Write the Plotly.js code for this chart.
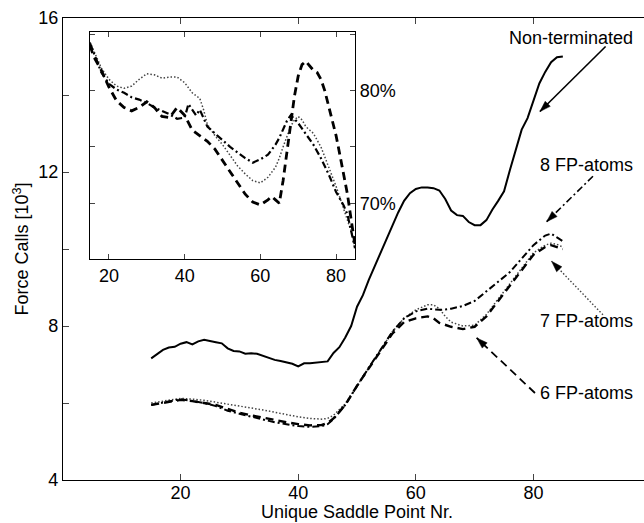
<!DOCTYPE html>
<html>
<head>
<meta charset="utf-8">
<script src="https://cdn.plot.ly/plotly-3.0.1.min.js"></script>
<style>html,body{margin:0;padding:0;background:#fff;overflow:hidden}</style>
</head>
<body>
<div id="chart" style="width:644px;height:523px"></div>
<script>
// ---------- main chart data (force calls, 10^3) ----------
const xNonTerm = [15,16,17,18,19,20,21,22,23,24,25,26,27,28,29,30,31,32,33,34,35,36,37,38,39,40,41,42,43,44,45,46,47,48,49,50,51,52,53,54,55,56,57,58,59,60,61,62,63,64,65,66,67,68,69,70,71,72,73,74,75,76,77,78,79,80,81,82,83,84,85];
const yNonTerm = [7.16,7.28,7.38,7.44,7.46,7.54,7.58,7.52,7.6,7.64,7.6,7.58,7.55,7.42,7.35,7.34,7.28,7.29,7.28,7.22,7.17,7.12,7.09,7.06,7.02,6.95,7.03,7.03,7.05,7.07,7.08,7.3,7.45,7.7,8.0,8.5,8.8,9.2,9.55,9.9,10.25,10.6,10.95,11.25,11.45,11.56,11.6,11.6,11.58,11.52,11.3,11.0,10.88,10.86,10.7,10.62,10.62,10.75,11.02,11.25,11.5,12.05,12.6,13.1,13.4,13.85,14.3,14.6,14.85,14.98,15.0];

const xFP = [15,18,20,22,24,26,28,30,32,34,36,38,40,42,44,45,46,48,50,52,54,56,58,60,62,63,64,65,66,68,70,72,74,76,78,80,82,83,84,85];
const yFP6 = [5.95,6.02,6.08,6.05,6.0,5.95,5.85,5.75,5.68,5.62,5.55,5.5,5.45,5.42,5.43,5.48,5.6,5.95,6.45,6.9,7.35,7.8,8.1,8.2,8.25,8.2,8.08,8.02,7.98,7.92,7.98,8.25,8.65,9.05,9.45,9.85,10.05,10.1,10.05,10.0];
const yFP7 = [6.0,6.08,6.12,6.1,6.07,6.02,5.97,5.92,5.88,5.82,5.76,5.7,5.64,5.6,5.58,5.6,5.68,5.98,6.45,6.9,7.38,7.85,8.2,8.42,8.55,8.55,8.45,8.25,8.1,8.0,8.02,8.3,8.7,9.1,9.5,9.9,10.1,10.15,10.12,10.05];
const yFP8 = [5.95,6.05,6.1,6.05,6.0,5.92,5.8,5.72,5.65,5.58,5.5,5.45,5.4,5.38,5.4,5.45,5.58,5.95,6.45,6.92,7.38,7.85,8.2,8.38,8.45,8.44,8.42,8.43,8.45,8.52,8.65,8.9,9.15,9.4,9.75,10.1,10.35,10.4,10.3,10.2];

// ---------- inset data (percent) ----------
const xIn6 = [15,16,18,20,22,24,26,28,30,32,34,36,38,40,42,44,46,48,50,52,54,56,58,60,62,63,64,65,66,67,68,69,70,71,72,73,74,75,76,77,78,79,80,81,82,83,84,85];
const yIn6 = [84.0,83.0,81.8,80.3,79.1,78.5,78.2,78.5,79.0,78.5,77.7,77.6,78.5,77.8,76.5,76.0,75.5,74.8,73.8,72.9,71.8,70.8,70.1,69.85,70.3,70.6,70.3,70.0,72.0,74.5,77.0,79.5,81.3,82.3,82.6,82.2,81.8,81.6,81.0,80.0,78.7,77.5,76.0,74.3,72.4,70.8,68.5,66.3];
const xIn7 = [15,16,18,20,22,24,26,28,30,32,34,36,38,40,42,44,45,46,48,50,52,54,56,58,60,62,64,65,66,67,68,69,70,71,72,73,74,76,78,80,82,83,84,85];
const yIn7 = [84.3,83.5,82.0,81.0,80.4,80.2,80.4,81.0,81.5,81.4,81.1,81.2,81.2,80.7,79.8,79.3,78.3,77.0,76.0,75.2,74.3,73.3,72.6,72.0,71.8,72.3,73.2,74.0,75.0,76.0,76.8,77.4,77.7,77.4,76.8,76.5,76.2,75.0,73.2,71.5,69.5,68.5,67.5,66.5];
const xIn8 = [15,16,18,20,22,24,26,28,30,32,34,36,38,40,41,42,43,44,45,46,48,50,52,54,56,58,60,62,64,65,66,67,68,69,70,72,74,76,78,80,82,83,84,85];
const yIn8 = [84.2,83.3,81.6,80.6,80.1,79.8,79.4,79.2,78.9,78.5,78.2,77.9,77.5,77.6,78.8,78.3,77.8,78.3,77.6,76.8,76.2,75.6,75.0,74.5,74.0,73.6,73.9,74.3,75.2,75.8,76.6,77.3,77.8,77.5,77.1,76.2,75.2,74.0,72.6,71.0,69.8,69.0,67.5,66.0];

// ---------- labels ----------
const labelNonTerm = 'Non-terminated';
const label6 = '6 FP-atoms';
const label7 = '7 FP-atoms';
const label8 = '8 FP-atoms';
const xTitle = 'Unique Saddle Point Nr.';
const yTitle = 'Force Calls [10<sup>3</sup>]';

const FONT = 'Liberation Sans, Arial, Helvetica, sans-serif';
const dashStyle = '8px,5px';
const dashDotStyle = '7px,3px,2px,3px';
const dotStyle = '1.5px,2px';

const traces = [
  {x: xNonTerm, y: yNonTerm, type: 'scatter', mode: 'lines', name: labelNonTerm,
   line: {color: '#000', width: 2}, xaxis: 'x', yaxis: 'y'},
  {x: xFP, y: yFP7, type: 'scatter', mode: 'lines', name: label7,
   line: {color: '#444', width: 1.5, dash: dotStyle}, xaxis: 'x', yaxis: 'y'},
  {x: xFP, y: yFP8, type: 'scatter', mode: 'lines', name: label8,
   line: {color: '#000', width: 2, dash: dashDotStyle}, xaxis: 'x', yaxis: 'y'},
  {x: xFP, y: yFP6, type: 'scatter', mode: 'lines', name: label6,
   line: {color: '#000', width: 2.4, dash: dashStyle}, xaxis: 'x', yaxis: 'y'},
  {x: xIn7, y: yIn7, type: 'scatter', mode: 'lines', name: label7 + ' inset',
   line: {color: '#444', width: 1.5, dash: dotStyle}, xaxis: 'x2', yaxis: 'y2'},
  {x: xIn8, y: yIn8, type: 'scatter', mode: 'lines', name: label8 + ' inset',
   line: {color: '#000', width: 2.2, dash: dashDotStyle}, xaxis: 'x2', yaxis: 'y2'},
  {x: xIn6, y: yIn6, type: 'scatter', mode: 'lines', name: label6 + ' inset',
   line: {color: '#000', width: 2.8, dash: dashStyle}, xaxis: 'x2', yaxis: 'y2'}
];

function shaft(x0, y0, x1, y1, dash, color, width) {
  return {type: 'line', xref: 'x', yref: 'y', x0: x0, y0: y0, x1: x1, y1: y1,
          line: {color: color, width: width, dash: dash}};
}
// filled arrowhead: tip at (x, y) in data units, pointing away from the screen-pixel direction (dx, dy)
function headShape(x, y, dx, dy) {
  const n = Math.hypot(dx, dy), ux = dx / n, uy = dy / n;
  const px = -uy, py = ux, L = 11, w = 3.6;
  const bx = ux * L, by = uy * L;
  const c1x = bx + px * w, c1y = by + py * w;
  const c2x = bx - px * w, c2y = by - py * w;
  const f = v => v.toFixed(2);
  return {type: 'path', xref: 'x', yref: 'y', xsizemode: 'pixel', ysizemode: 'pixel',
          xanchor: x, yanchor: y,
          path: 'M0,0 L' + f(c1x) + ',' + f(-c1y) + ' L' + f(c2x) + ',' + f(-c2y) + ' Z',
          fillcolor: '#000', line: {color: '#000', width: 0.5}};
}
function label(text, x, y) {
  return {x: x, y: y, xref: 'x', yref: 'y', text: text, showarrow: false,
          xanchor: 'right', yanchor: 'middle', font: {family: FONT, size: 18, color: '#000'}};
}

const layout = {
  width: 644, height: 523,
  margin: {l: 63, r: 0, t: 18, b: 43},
  paper_bgcolor: '#fff', plot_bgcolor: 'rgba(0,0,0,0)',
  showlegend: false,
  font: {family: FONT, size: 18, color: '#000'},
  xaxis: {
    range: [0, 98.8], tickvals: [20, 40, 60, 80], ticks: 'inside', ticklen: 6, tickwidth: 1,
    ticklabelstandoff: -4,
    showline: true, linecolor: '#000', linewidth: 1.2, mirror: 'ticks',
    showgrid: false, zeroline: false, tickfont: {family: FONT, size: 18}
  },
  yaxis: {
    range: [4, 16], tick0: 4, dtick: 4, ticks: 'inside', ticklen: 6, tickwidth: 1,
    minor: {dtick: 2, tick0: 4, ticks: 'inside', ticklen: 6, tickwidth: 1, showgrid: false},
    showline: true, linecolor: '#000', linewidth: 1.2, mirror: false,
    showgrid: false, zeroline: false, tickfont: {family: FONT, size: 18},
    title: {text: yTitle, font: {family: FONT, size: 18}, standoff: 4}
  },
  xaxis2: {
    domain: [0.0465, 0.5026], anchor: 'y2', range: [15, 85], tick0: 0, dtick: 20,
    ticks: 'inside', ticklen: 5, tickwidth: 1,
    showline: true, linecolor: '#000', linewidth: 1.2, mirror: 'ticks',
    showgrid: false, zeroline: false, tickfont: {family: FONT, size: 18}
  },
  yaxis2: {
    domain: [0.4784, 0.9697], anchor: 'x2', side: 'right', range: [65.05, 85.2],
    tick0: 70, dtick: 10, ticksuffix: '%', ticks: 'inside', ticklen: 5, tickwidth: 1,
    minor: {dtick: 5, tick0: 65, ticks: 'inside', ticklen: 5, tickwidth: 1, showgrid: false},
    showline: true, linecolor: '#000', linewidth: 1.2, mirror: 'ticks',
    showgrid: false, zeroline: false, tickfont: {family: FONT, size: 18}
  },
  shapes: [
    shaft(92.27, 15.26, 81.1, 13.57, 'solid', '#000', 1.6),
    shaft(90.12, 11.89, 82.25, 10.71, dashDotStyle, '#000', 1.6),
    shaft(91.82, 8.29, 83.09, 9.68, dotStyle, '#444', 1.4),
    shaft(80.26, 6.26, 70.35, 7.69, dashStyle, '#000', 1.8),
    headShape(81.1, 13.57, 65.7, -65),
    headShape(82.25, 10.71, 46.3, -45),
    headShape(83.09, 9.68, 51.3, 53.4),
    headShape(70.35, 7.69, 58.3, 55)
  ],
  annotations: [
    label(labelNonTerm, 97.3, 15.48),
    label(label8, 97.3, 12.18),
    label(label7, 97.3, 8.13),
    label(label6, 97.3, 6.26),
    {x: 0.506, y: -0.0931, xref: 'paper', yref: 'paper', text: xTitle, showarrow: false,
     xanchor: 'center', yanchor: 'bottom', yshift: -1, font: {family: FONT, size: 18, color: '#000'}}
  ]
};

Plotly.newPlot('chart', traces, layout, {displayModeBar: false, staticPlot: true});
</script>
</body>
</html>
